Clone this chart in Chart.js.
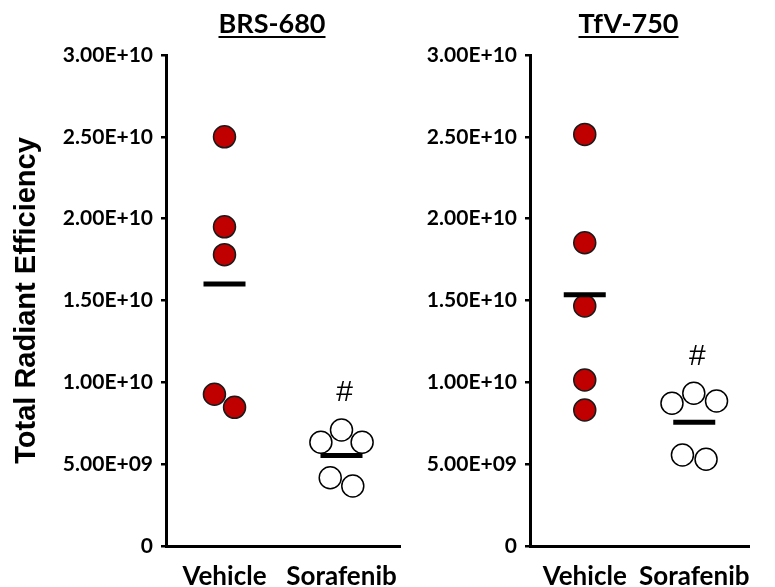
<!DOCTYPE html>
<html>
<head>
<meta charset="utf-8">
<script src="https://cdn.jsdelivr.net/npm/chart.js@4.4.1/dist/chart.umd.min.js"></script>
<style>
  html, body { margin: 0; padding: 0; background: #fff; }
  #wrap { position: relative; width: 775px; height: 587px; overflow: hidden; background: #fff; }
  canvas { position: absolute; top: 0; }
</style>
</head>
<body>
<div id="wrap">
  <canvas id="brs" width="430" height="587" style="left:0"></canvas>
  <canvas id="tfv" width="375" height="587" style="left:400px"></canvas>
</div>
<script>
// Groups on the x axis
const groups = ['Vehicle', 'Sorafenib'];

// BRS-680 signal per animal
const brsVehicle   = [2.50e10, 1.95e10, 1.78e10, 0.927e10, 0.847e10];
const brsSorafenib = [0.709e10, 0.634e10, 0.634e10, 0.417e10, 0.367e10];

// TfV-750 signal per animal
const tfvVehicle   = [2.515e10, 1.853e10, 1.466e10, 1.014e10, 0.831e10];
const tfvSorafenib = [0.933e10, 0.886e10, 0.872e10, 0.556e10, 0.530e10];

// Y axis
const yTickLabels = ['0', '5.00E+09', '1.00E+10', '1.50E+10', '2.00E+10', '2.50E+10', '3.00E+10'];
const yMax = 3e10;
const yStep = 5e9;
const yTitle = 'Total Radiant Efficiency';

const mean = a => a.reduce((s, v) => s + v, 0) / a.length;

// Spread overlapping points sideways (beeswarm), then centre each cluster on its group
const swarmPlugin = {
  id: 'swarm',
  afterDatasetsUpdate(chart, args, opts) {
    const D = opts.spacing;
    chart.data.datasets.forEach((ds, di) => {
      if (!ds.swarm) return;
      const pts = chart.getDatasetMeta(di).data;
      if (!pts.length) return;
      const order = pts.map((p, i) => i).sort((a, b) => pts[a].y - pts[b].y);
      const off = new Array(pts.length).fill(0);
      const placed = [];
      order.forEach(i => {
        const y = pts[i].y;
        const near = placed.filter(j => Math.abs(pts[j].y - y) < D);
        const cands = [0];
        near.forEach(j => {
          const dx = Math.sqrt(D * D - (pts[j].y - y) ** 2);
          cands.push(off[j] + dx, off[j] - dx);
        });
        const ok = cands.filter(c => near.every(j => Math.hypot(off[j] - c, pts[j].y - y) >= D - 0.01));
        ok.sort((a, b) => (Math.abs(a) - Math.abs(b)) || (b - a));
        off[i] = ok[0];
        placed.push(i);
      });
      let cluster = [order[0]];
      const flush = () => {
        const xs = cluster.map(i => off[i]);
        const c = (Math.min(...xs) + Math.max(...xs)) / 2;
        cluster.forEach(i => { off[i] -= c; });
      };
      for (let k = 1; k < order.length; k++) {
        if (pts[order[k]].y - pts[order[k - 1]].y < D) cluster.push(order[k]);
        else { flush(); cluster = [order[k]]; }
      }
      flush();
      pts.forEach((p, i) => { p.x += off[i]; });
    });
  }
};

// Underlined panel heading and the significance mark over the treated group
const panelText = {
  id: 'panelText',
  afterDraw(chart, args, o) {
    const ctx = chart.ctx;
    const a = chart.chartArea;
    ctx.save();
    ctx.fillStyle = '#000';
    ctx.font = 'bold ' + o.titleSize + 'px Lato';
    ctx.textAlign = 'center';
    ctx.textBaseline = 'alphabetic';
    const cx = (a.left + a.right) / 2 + o.titleShift;
    ctx.fillText(o.title, cx, o.titleBaseline);
    const w = ctx.measureText(o.title).width;
    ctx.fillRect(cx - w / 2, o.titleBaseline + 3, w, 2);

    const xs = chart.scales.x, ys = chart.scales.y;
    const vals = o.markData;
    ctx.font = o.markSize + 'px "Liberation Sans"';
    ctx.textBaseline = 'middle';
    ctx.fillText(o.mark, xs.getPixelForValue(o.markIndex) + 3, ys.getPixelForValue(Math.max(...vals)) - 37);
    ctx.restore();
  }
};

function makePanel(canvasId, title, vehicle, sorafenib, showTitle, yWidth, padRight) {
  const pt = (g, v) => ({ x: groups[g], y: v });
  return new Chart(document.getElementById(canvasId), {
    type: 'scatter',
    data: {
      datasets: [
        {
          label: 'Mean',
          data: [pt(0, mean(vehicle)), pt(1, mean(sorafenib))],
          pointStyle: 'line',
          pointRadius: 21,
          borderWidth: 5,
          borderColor: '#000',
          backgroundColor: '#000',
          order: -1
        },
        {
          label: groups[0],
          swarm: true,
          data: vehicle.map(v => pt(0, v)),
          pointRadius: 11,
          borderWidth: 1.5,
          borderColor: '#1a1a1a',
          backgroundColor: '#c00000'
        },
        {
          label: groups[1],
          swarm: true,
          data: sorafenib.map(v => pt(1, v)),
          pointRadius: 11,
          borderWidth: 1.5,
          borderColor: '#000',
          backgroundColor: '#fff'
        }
      ]
    },
    options: {
      responsive: false,
      animation: false,
      events: [],
      layout: { padding: { top: 55, right: padRight, bottom: 0, left: 0 } },
      plugins: {
        legend: { display: false },
        tooltip: { enabled: false },
        swarm: { spacing: 24 },
        panelText: {
          title: title, titleSize: 27, titleBaseline: 33, titleShift: -11,
          mark: '#', markSize: 30, markIndex: 1, markData: sorafenib
        }
      },
      scales: {
        x: {
          type: 'category',
          labels: groups,
          offset: true,
          ticks: {
            color: '#000',
            font: { family: 'Lato', weight: 'bold', size: 26 },
            padding: 15,
            maxRotation: 0,
            autoSkip: false
          },
          grid: { display: false, drawTicks: false },
          border: { display: true, color: '#000', width: 3 },
          afterFit: s => { s.height = 41; }
        },
        y: {
          min: 0,
          max: yMax,
          ticks: {
            stepSize: yStep,
            color: '#000',
            font: { family: 'Lato', weight: 'bold', size: 21 },
            padding: 8,
            callback: (v, i) => yTickLabels[i]
          },
          grid: { drawOnChartArea: false, drawTicks: true, tickLength: 5, color: '#000', lineWidth: 2.5 },
          border: { display: true, color: '#000', width: 3 },
          title: {
            display: showTitle,
            text: yTitle,
            color: '#000',
            font: { family: 'Liberation Sans', weight: 'bold', size: 29 },
            padding: { top: 10, bottom: 0 }
          },
          afterFit: s => { s.width = yWidth; }
        }
      }
    },
    plugins: [swarmPlugin, panelText]
  });
}

function draw() {
  makePanel('brs', 'BRS-680', brsVehicle, brsSorafenib, true, 166, 30);
  makePanel('tfv', 'TfV-750', tfvVehicle, tfvSorafenib, false, 130, 12);
}

const fontLoads = [
  'bold 21px Lato', 'bold 26px Lato', 'bold 29px "Liberation Sans"', '30px "Liberation Sans"'
].map(f => document.fonts.load(f).catch(() => null));
Promise.all(fontLoads).then(draw, draw);
</script>
</body>
</html>
